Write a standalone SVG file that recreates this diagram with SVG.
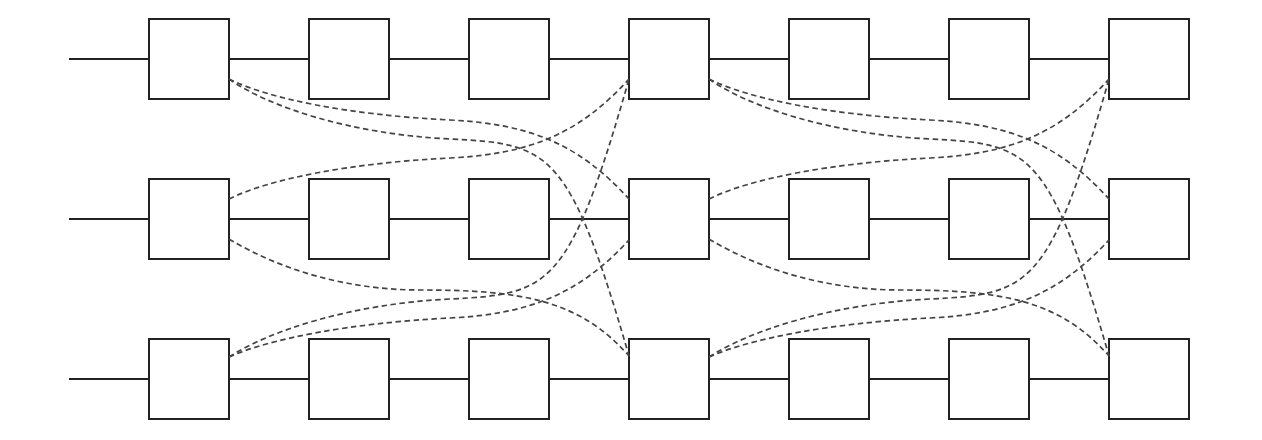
<svg xmlns="http://www.w3.org/2000/svg" width="1262" height="440" viewBox="0 0 1262 440">
<style>
.line{stroke:#222;stroke-width:2;fill:none}
.box{fill:#fff;stroke:#222;stroke-width:2}
.dash{fill:none;stroke:#444;stroke-width:1.7;stroke-dasharray:5.5 3.5}
</style>
<rect x="0" y="0" width="1262" height="440" fill="#fff"/>
<g id="chains">
<line class="line" x1="69" y1="59" x2="1189" y2="59"/>
<line class="line" x1="69" y1="219" x2="1189" y2="219"/>
<line class="line" x1="69" y1="379" x2="1189" y2="379"/>
</g>
<g id="row0">
<g id="n0_0"><rect class="box" x="149" y="19" width="80" height="80"/></g>
<g id="n0_1"><rect class="box" x="309" y="19" width="80" height="80"/></g>
<g id="n0_2"><rect class="box" x="469" y="19" width="80" height="80"/></g>
<g id="n0_3"><rect class="box" x="629" y="19" width="80" height="80"/></g>
<g id="n0_4"><rect class="box" x="789" y="19" width="80" height="80"/></g>
<g id="n0_5"><rect class="box" x="949" y="19" width="80" height="80"/></g>
<g id="n0_6"><rect class="box" x="1109" y="19" width="80" height="80"/></g>
</g>
<g id="row1">
<g id="n1_0"><rect class="box" x="149" y="179" width="80" height="80"/></g>
<g id="n1_1"><rect class="box" x="309" y="179" width="80" height="80"/></g>
<g id="n1_2"><rect class="box" x="469" y="179" width="80" height="80"/></g>
<g id="n1_3"><rect class="box" x="629" y="179" width="80" height="80"/></g>
<g id="n1_4"><rect class="box" x="789" y="179" width="80" height="80"/></g>
<g id="n1_5"><rect class="box" x="949" y="179" width="80" height="80"/></g>
<g id="n1_6"><rect class="box" x="1109" y="179" width="80" height="80"/></g>
</g>
<g id="row2">
<g id="n2_0"><rect class="box" x="149" y="339" width="80" height="80"/></g>
<g id="n2_1"><rect class="box" x="309" y="339" width="80" height="80"/></g>
<g id="n2_2"><rect class="box" x="469" y="339" width="80" height="80"/></g>
<g id="n2_3"><rect class="box" x="629" y="339" width="80" height="80"/></g>
<g id="n2_4"><rect class="box" x="789" y="339" width="80" height="80"/></g>
<g id="n2_5"><rect class="box" x="949" y="339" width="80" height="80"/></g>
<g id="n2_6"><rect class="box" x="1109" y="339" width="80" height="80"/></g>
</g>
<g id="connectors">
<path class="dash" d="M229,79 C269,99 350,115 450,120 C530,124 579,144 629,199"/>
<path class="dash" d="M229,79 C269,107 350,134 450,139 C550,144 569,149 629,356"/>
<path class="dash" d="M229,199 C269,179 350,163 450,158 C530,154 579,134 629,79"/>
<path class="dash" d="M229,239 C282,271 350,290 420,290 C520,290 579,299 629,356"/>
<path class="dash" d="M229,357 C269,331 350,304 450,299 C550,294 569,289 629,79"/>
<path class="dash" d="M229,357 C269,339 350,323 450,318 C530,314 579,294 629,240"/>
<path class="dash" d="M709,79 C749,99 830,115 930,120 C1010,124 1059,144 1109,199"/>
<path class="dash" d="M709,79 C749,107 830,134 930,139 C1030,144 1049,149 1109,356"/>
<path class="dash" d="M709,199 C749,179 830,163 930,158 C1010,154 1059,134 1109,79"/>
<path class="dash" d="M709,239 C762,271 830,290 900,290 C1000,290 1059,299 1109,356"/>
<path class="dash" d="M709,357 C749,331 830,304 930,299 C1030,294 1049,289 1109,79"/>
<path class="dash" d="M709,357 C749,339 830,323 930,318 C1010,314 1059,294 1109,240"/>
</g>
</svg>
